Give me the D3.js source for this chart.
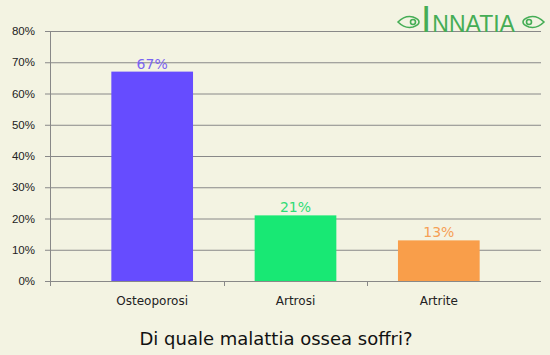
<!DOCTYPE html>
<html>
<head>
<meta charset="utf-8">
<script src="https://cdn.jsdelivr.net/npm/d3@7"></script>
<style>
  html, body { margin: 0; padding: 0; background: #f3f3e2; }
  svg { display: block; font-family: "DejaVu Sans", Verdana, sans-serif; }
</style>
</head>
<body>
<svg id="chart"></svg>
<script>
// data
const categories = ['Osteoporosi', 'Artrosi', 'Artrite'];
const values = [67, 21, 13];
const barColors = ['#664cff', '#18e874', '#f99e4a'];
const labelColors = ['#7a63f2', '#2fdc76', '#f6a055'];
const yTicks = [0, 10, 20, 30, 40, 50, 60, 70, 80];
const title = 'Di quale malattia ossea soffri?';

const width = 550, height = 355;
const margin = { top: 31, right: 9, bottom: 74, left: 50 };

const svg = d3.select('#chart').attr('width', width).attr('height', height);

svg.append('rect').attr('width', width).attr('height', height).attr('fill', '#f3f3e2');

const x = d3.scaleBand()
    .domain(categories)
    .range([margin.left, width - margin.right])
    .paddingInner(0.43)
    .paddingOuter(0.428);

const y = d3.scaleLinear()
    .domain([0, 80])
    .range([height - margin.bottom, margin.top]);

// grid lines + y axis
const yAxis = d3.axisLeft(y)
    .tickValues(yTicks)
    .tickFormat(d => d + '%')
    .tickSize(-(width - margin.right - margin.left))
    .tickSizeOuter(0);

const gy = svg.append('g')
    .attr('transform', `translate(${margin.left},0)`)
    .call(yAxis);
gy.select('.domain').remove();
gy.selectAll('.tick line').attr('stroke', '#888').attr('x1', -5);
gy.selectAll('.tick text')
    .attr('x', -15)
    .attr('fill', '#222')
    .style('font-size', '11.5px');

// y axis line
svg.append('line')
    .attr('x1', margin.left + 0.5).attr('x2', margin.left + 0.5)
    .attr('y1', margin.top).attr('y2', y(0) + 5)
    .attr('stroke', '#888');

// x axis ticks between categories
const step = x.step();
const seps = categories.slice(1).map(c => x(c) - (step - x.bandwidth()) / 2);
svg.selectAll('.sep')
    .data(seps)
    .join('line')
    .attr('x1', d => Math.round(d) + 0.5).attr('x2', d => Math.round(d) + 0.5)
    .attr('y1', y(0)).attr('y2', y(0) + 5)
    .attr('stroke', '#888');

// bars
svg.selectAll('.bar')
    .data(values)
    .join('rect')
    .attr('x', (d, i) => x(categories[i]))
    .attr('width', x.bandwidth())
    .attr('y', d => y(d))
    .attr('height', d => y(0) - y(d))
    .attr('fill', (d, i) => barColors[i]);

// value labels
svg.selectAll('.val')
    .data(values)
    .join('text')
    .attr('x', (d, i) => x(categories[i]) + x.bandwidth() / 2)
    .attr('y', d => y(d) - 3)
    .attr('text-anchor', 'middle')
    .attr('fill', (d, i) => labelColors[i])
    .style('font-size', '14px')
    .text(d => d + '%');

// category labels
svg.selectAll('.cat')
    .data(categories)
    .join('text')
    .attr('x', d => x(d) + x.bandwidth() / 2)
    .attr('y', y(0) + 24)
    .attr('text-anchor', 'middle')
    .attr('fill', '#222')
    .style('font-size', '12px')
    .text(d => d);

// title
svg.append('text')
    .attr('x', 276)
    .attr('y', 345)
    .attr('text-anchor', 'middle')
    .attr('fill', '#111')
    .style('font-size', '18px')
    .text(title);

// logo
const logo = svg.append('g').attr('fill', '#45ad55');
const lt = logo.append('text')
    .attr('x', 421)
    .attr('y', 32)
    .style('font-family', '"Liberation Sans", sans-serif');
lt.append('tspan').style('font-size', '37px').text('I');
lt.append('tspan').style('font-size', '23px').attr('dx', 1).text('NNATIA');

// little ornaments on both sides
[[409, 1], [533, -1]].forEach(([cx, dir]) => {
    const o = logo.append('g').attr('transform', `translate(${cx},22) scale(${dir},1)`)
        .attr('fill', 'none').attr('stroke', '#45ad55').attr('stroke-width', 1.6);
    o.append('path').attr('d', 'M-11,0 Q-4,-7 4,-5 Q10,-3 10,0 Q10,3 4,5 Q-4,7 -11,0 Z');
    o.append('circle').attr('cx', 4).attr('cy', 0).attr('r', 2.5);
});
</script>
</body>
</html>
